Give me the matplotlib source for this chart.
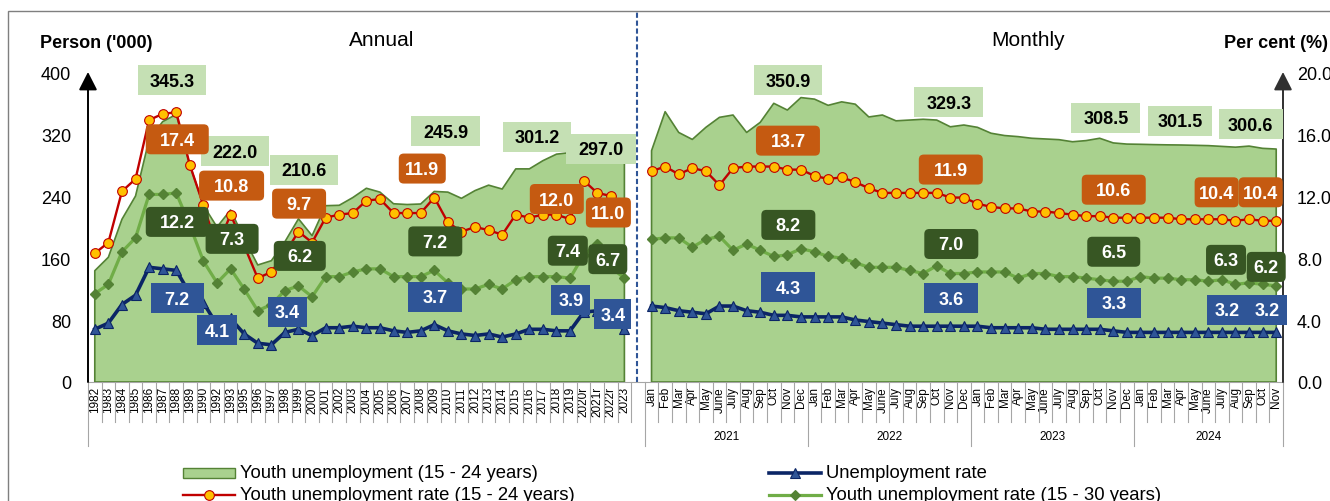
import numpy as np
import matplotlib
matplotlib.use("Agg")
import matplotlib.pyplot as plt
from matplotlib.patches import FancyBboxPatch, Rectangle
from matplotlib.lines import Line2D
from matplotlib.transforms import ScaledTranslation, blended_transform_factory

plt.rcParams['font.family'] = ['Liberation Sans', 'DejaVu Sans']

# ---- annual series ----
years = ['1982', '1983', '1984', '1985', '1986', '1987', '1988', '1989', '1990', '1992',
         '1993', '1995', '1996', '1997', '1998', '1999', '2000', '2001', '2002', '2003',
         '2004', '2005', '2006', '2007', '2008', '2009', '2010', '2011', '2012', '2013',
         '2014', '2015', '2016', '2017', '2018', '2019', '2020r', '2021r', '2022r', '2023']
youth_unemp_yr = [143.6, 161.0, 210.0, 240.0, 313.0, 336.0, 345.3, 280.0, 228.0, 200.0,
                  222.0, 185.0, 151.0, 156.5, 181.0, 210.6, 188.8, 227.5, 228.0, 238.0,
                  250.0, 245.0, 230.0, 229.0, 229.7, 245.9, 245.0, 237.0, 247.0, 254.0,
                  249.0, 275.0, 275.0, 285.6, 294.0, 296.0, 300.0, 302.0, 301.2, 297.0]
rate_1524_yr = [8.3, 9.0, 12.3, 13.1, 16.9, 17.3, 17.4, 14.0, 11.4, 8.7,
                10.8, 8.8, 6.7, 7.1, 8.3, 9.7, 9.0, 10.6, 10.8, 10.9,
                11.7, 11.8, 10.9, 10.9, 10.9, 11.9, 10.3, 9.7, 10.0, 9.8,
                9.5, 10.8, 10.6, 10.8, 10.8, 10.5, 13.0, 12.2, 12.0, 11.0]
rate_1530_yr = [5.7, 6.3, 8.4, 9.3, 12.1, 12.1, 12.2, 10.1, 7.8, 6.4,
                7.3, 6.0, 4.6, 5.0, 5.9, 6.2, 5.5, 6.8, 6.8, 7.1,
                7.3, 7.3, 6.8, 6.8, 6.8, 7.2, 6.4, 6.0, 6.0, 6.3,
                6.0, 6.6, 6.8, 6.8, 6.8, 6.7, 8.2, 8.9, 7.4, 6.7]
unemp_rate_yr = [3.4, 3.8, 5.0, 5.6, 7.4, 7.3, 7.2, 5.7, 5.1, 3.7,
                 4.1, 3.1, 2.5, 2.4, 3.2, 3.4, 3.0, 3.5, 3.5, 3.6,
                 3.5, 3.5, 3.3, 3.2, 3.3, 3.7, 3.3, 3.1, 3.0, 3.1,
                 2.9, 3.1, 3.4, 3.4, 3.3, 3.3, 4.5, 4.6, 3.9, 3.4]

# ---- monthly series, Jan 2021 - Nov 2024 ----
month_names = ['Jan', 'Feb', 'Mar', 'Apr', 'May', 'June', 'July', 'Aug', 'Sep', 'Oct', 'Nov', 'Dec']
month_years = ['2021', '2022', '2023', '2024']
months = (month_names * 4)[:47]
youth_unemp_mo = [298.5, 348.8, 322.0, 313.0, 328.6, 341.5, 344.5, 322.0, 335.0, 359.6, 350.9, 367.0,
                  365.0, 357.0, 361.5, 358.5, 342.0, 344.5, 337.0, 338.0, 339.0, 338.0, 329.3, 331.6,
                  328.6, 321.0, 318.0, 316.6, 314.5, 313.6, 312.7, 310.0, 311.5, 314.5, 308.5, 307.0,
                  306.7, 306.3, 306.0, 305.8, 305.4, 305.0, 304.0, 303.0, 304.4, 301.5, 300.6]
rate_1524_mo = [13.6, 13.9, 13.4, 13.8, 13.6, 12.7, 13.8, 13.9, 13.9, 13.9, 13.7, 13.7,
                13.3, 13.1, 13.2, 12.9, 12.5, 12.2, 12.2, 12.2, 12.2, 12.2, 11.9, 11.9,
                11.5, 11.3, 11.2, 11.2, 11.0, 11.0, 10.9, 10.8, 10.7, 10.7, 10.6, 10.6,
                10.6, 10.6, 10.6, 10.5, 10.5, 10.5, 10.5, 10.4, 10.5, 10.4, 10.4]
rate_1530_mo = [9.2, 9.3, 9.3, 8.7, 9.2, 9.4, 8.5, 8.9, 8.5, 8.1, 8.2, 8.6,
                8.4, 8.1, 8.0, 7.7, 7.4, 7.4, 7.4, 7.2, 7.0, 7.5, 7.0, 7.0,
                7.1, 7.1, 7.1, 6.7, 7.0, 7.0, 6.8, 6.8, 6.7, 6.6, 6.5, 6.5,
                6.8, 6.7, 6.7, 6.6, 6.6, 6.5, 6.6, 6.3, 6.4, 6.3, 6.2]
unemp_rate_mo = [4.9, 4.8, 4.6, 4.5, 4.4, 4.9, 4.9, 4.6, 4.5, 4.3, 4.3, 4.2,
                 4.2, 4.2, 4.2, 4.0, 3.9, 3.8, 3.7, 3.6, 3.6, 3.6, 3.6, 3.6,
                 3.6, 3.5, 3.5, 3.5, 3.5, 3.4, 3.4, 3.4, 3.4, 3.4, 3.3, 3.2,
                 3.2, 3.2, 3.2, 3.2, 3.2, 3.2, 3.2, 3.2, 3.2, 3.2, 3.2]

# label placement: (position on the combined axis, dx px, dy px, box width px)
area_tags = [(6, -4.5, 34, 68), (10, 4, 58.5, 68), (15, 6, 49, 68), (25, 11.5, 60, 69),
             (38, -74, 11.6, 68), (39, -23.6, 3, 70), (51, 1, 30, 68), (63, -1.5, 24.5, 69),
             (75, -7.5, 25, 69), (86, -82.6, 27.6, 64), (87, -25.5, 25, 64)]
r1524_tags = [(6, 1, -27, 63), (10, 1, 29, 65), (15, 0.6, 28, 54), (25, -12, 29, 47),
              (38, -54, -3, 54), (39, -16, -1, 45), (51, 0.6, 29, 64), (63, 0.5, 28, 64),
              (75, 0.5, 28, 64), (86, -46, 28.5, 44), (87, -15.5, 28.5, 44)]
r1530_tags = [(6, 1, -29, 63), (10, 1.5, 30, 53), (15, 1.3, 30, 52), (25, 1, 29, 54),
              (38, -43, 16.6, 40), (39, -16.6, 19, 39), (51, 1, 30, 54), (63, 1, 29.5, 54),
              (75, 0.5, 29.5, 53), (86, -36.6, 24.5, 40), (87, -10, 19, 39)]
unemp_tags = [(6, 1, -28, 53), (10, -13.5, -12, 40), (15, -11, 17.5, 39), (25, 1, 28, 54),
              (38, -40, 22, 39), (39, -11.6, 15, 37), (51, 1, 28, 54), (63, 1, 28, 54),
              (75, 0.5, 28, 54), (86, -35.5, 22.6, 40), (87, -9, 22.6, 40)]

C_AREA, C_AREA_EDGE, C_AREA_TAG = '#A9D18E', '#548235', '#C5E0B4'
C_RED, C_ORANGE, C_ORANGE_TAG = '#C00000', '#FFC000', '#C55A11'
C_GREEN, C_GREEN_MK, C_GREEN_TAG = '#70AD47', '#548235', '#375623'
C_NAVY, C_BLUE = '#0B2566', '#2F5597'

W, H = 1330, 502
fig = plt.figure(figsize=(W / 100, H / 100), dpi=100)
ax = fig.add_axes([88 / W, 119 / H, 1195 / W, 310 / H])
ax2 = ax.twinx()

gap = [np.nan]
x = np.arange(len(years) + 1 + len(months))
youth_unemp = np.array(youth_unemp_yr + gap + youth_unemp_mo)
rate_1524 = np.array(rate_1524_yr + gap + rate_1524_mo)
rate_1530 = np.array(rate_1530_yr + gap + rate_1530_mo)
unemp_rate = np.array(unemp_rate_yr + gap + unemp_rate_mo)

ax.fill_between(x, 0, np.nan_to_num(youth_unemp), where=~np.isnan(youth_unemp),
                facecolor=C_AREA, edgecolor=C_AREA_EDGE, lw=1.2, zorder=1)

ax2.plot(x, rate_1524, color=C_RED, lw=1.7, marker='o', ms=7.0,
         mfc=C_ORANGE, mec=C_RED, mew=0.8, zorder=4)
ax2.plot(x, rate_1530, color=C_GREEN, lw=2.3, marker='D', ms=5.6,
         mfc=C_GREEN_MK, mec=C_GREEN_MK, zorder=3)
ax2.plot(x, unemp_rate, color=C_NAVY, lw=2.6, marker='^', ms=7.5,
         mfc=C_BLUE, mec=C_NAVY, mew=0.8, zorder=3)

ax.set_xlim(-0.5, len(x) - 0.5)
ax.set_ylim(0, 400)
ax2.set_ylim(0, 20)

for a in (ax, ax2):
    for s in a.spines.values():
        s.set_visible(False)

ax.set_yticks(np.arange(0, 401, 80))
ax.tick_params(axis='y', length=0, pad=12, labelsize=13)
ax2.set_yticks(np.arange(0, 21, 4))
ax2.set_yticklabels([f'{v:.1f}' for v in np.arange(0, 21, 4)])
ax2.tick_params(axis='y', length=0, pad=10, labelsize=13)

tick_x = [i for i in x if i != len(years)]
ax.set_xticks(tick_x)
ax.set_xticklabels(years + months, rotation=90, fontsize=8.5, va='top')
ax.tick_params(axis='x', length=0, pad=3)

# axis lines with arrow heads
for xa, col in ((0, 'black'), (1, '#303030')):
    ax.annotate('', xy=(xa, 1), xytext=(xa, 0), xycoords='axes fraction',
                arrowprops=dict(arrowstyle='-|>,head_length=0.55,head_width=0.28',
                                mutation_scale=20, lw=1.4, color=col,
                                shrinkA=0, shrinkB=0), zorder=8)

# baseline and category separators under the axis
bt = blended_transform_factory(ax.transData, ax.transAxes)
ax.plot([-0.5, len(x) - 0.5], [0, 0], transform=bt, color='#A6A6A6', lw=0.8,
        clip_on=False, zorder=0.5)
year_edges = [len(years) + 0.5 + 12 * k for k in range(4)] + [len(x) - 0.5]
for b in np.arange(-0.5, len(x), 1.0):
    low = -0.205 if (b in year_edges or b == -0.5) else -0.13
    ax.plot([b, b], [0, low], transform=bt, color='#A6A6A6', lw=0.8, clip_on=False)
for k, yr in enumerate(month_years):
    first = len(years) + 1 + 12 * k
    last = min(first + 11, len(x) - 1)
    ax.text((first + last) / 2, -0.175, yr, transform=bt, ha='center', va='center',
            fontsize=8.5)

# dashed divider between annual and monthly
ax.plot([len(years) - 0.1] * 2, [0, 371 / 310], transform=bt, color=C_BLUE, lw=1.5,
        ls=(0, (2.5, 1.3)), clip_on=False, zorder=9)


def add_tags(series, tags, to_axis, face, text_color, rounded):
    for i, dx, dy, w in tags:
        v = series[i]
        h = 30
        style = 'round,pad=0,rounding_size=5' if rounded else 'square,pad=0'
        box = FancyBboxPatch((dx - w / 2, dy - h / 2), w, h, boxstyle=style,
                             transform=ScaledTranslation(i, v, to_axis.transData),
                             fc=face, ec='none', zorder=10, clip_on=False)
        ax2.add_artist(box)
        ax2.annotate(f'{v:.1f}', xy=(i, v), xycoords=to_axis.transData,
                     xytext=(dx, dy - 1), textcoords='offset pixels',
                     ha='center', va='center', fontsize=13, fontweight='bold',
                     color=text_color, zorder=11, annotation_clip=False)


add_tags(youth_unemp, area_tags, ax, C_AREA_TAG, 'black', False)
add_tags(rate_1524, r1524_tags, ax2, C_ORANGE_TAG, 'white', True)
add_tags(rate_1530, r1530_tags, ax2, C_GREEN_TAG, 'white', True)
add_tags(unemp_rate, unemp_tags, ax2, C_BLUE, 'white', False)

# headings
fig.text(40 / W, 1 - 44 / H, "Person ('000)", fontsize=13, fontweight='bold', va='center')
fig.text(1224 / W, 1 - 43 / H, 'Per cent (%)', fontsize=13, fontweight='bold', va='center')
fig.text(382 / W, 1 - 40 / H, 'Annual', fontsize=15, ha='center', va='center')
fig.text(1028 / W, 1 - 40 / H, 'Monthly', fontsize=15, ha='center', va='center')

# outer frame
fig.add_artist(Rectangle((8 / W, -0.1), 1.2, 1.1 - 12 / H, transform=fig.transFigure,
                         fill=False, ec='#7F7F7F', lw=1))


# legend, drawn by hand in pixel positions
def px(xp, yp):
    return xp / W, 1 - yp / H


a0, b0 = px(183, 479)
fig.add_artist(Rectangle((a0, b0), 52 / W, 10 / H, transform=fig.transFigure,
                         fc=C_AREA, ec=C_AREA_EDGE, lw=1))
fig.text(*px(240, 474), 'Youth unemployment (15 - 24 years)', fontsize=13.3, va='center')

for x0, yp, label, col, lw, mk, ms, mfc, mec in (
        (183, 496, 'Youth unemployment rate (15 - 24 years)', C_RED, 1.7, 'o', 7.0, C_ORANGE, C_RED),
        (769, 474, 'Unemployment rate', C_NAVY, 2.6, '^', 7.5, C_BLUE, C_NAVY),
        (769, 496, 'Youth unemployment rate (15 - 30 years)', C_GREEN, 2.3, 'D', 5.6, C_GREEN_MK, C_GREEN_MK)):
    (a0, b0), (a1, _) = px(x0, yp), px(x0 + 52, yp)
    fig.add_artist(Line2D([a0, a1], [b0, b0], transform=fig.transFigure, color=col, lw=lw))
    fig.add_artist(Line2D([(a0 + a1) / 2], [b0], transform=fig.transFigure, ls='none',
                          marker=mk, ms=ms, mfc=mfc, mec=mec, mew=0.8))
    fig.text(*px(x0 + 57, yp), label, fontsize=13.3, va='center')

fig.savefig('out.png', dpi=100)
